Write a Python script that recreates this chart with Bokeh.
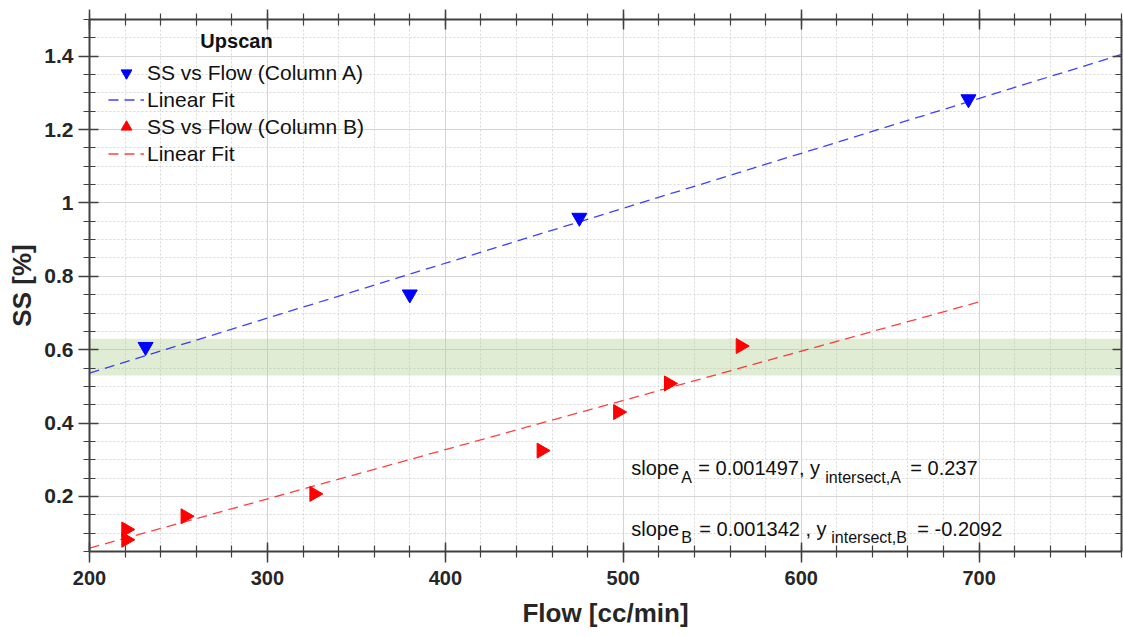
import math
from bokeh.plotting import figure
from bokeh.models import (Range1d, FixedTicker, LinearAxis, BoxAnnotation, Label,
                          Legend, LegendItem, PrintfTickFormatter, CustomJSTickFormatter)
from bokeh.embed import file_html
from bokeh.resources import INLINE

# ---------------- data ----------------
flow_A = [231.5, 380.0, 475.3, 694.0]
ss_A = [0.608, 0.751, 0.960, 1.283]

flow_B = [220.6, 220.6, 253.9, 326.3, 454.0, 497.0, 525.6, 565.9]
ss_B = [0.110, 0.082, 0.146, 0.207, 0.325, 0.430, 0.508, 0.610]

slope_A = 0.001497
intercept_A = 0.237
fit_x_A = [200, 780]

slope_B = 0.001342
intercept_B = -0.2092
fit_x_B = [200, 700]

band = [0.53, 0.63]

x_ticks = [200, 300, 400, 500, 600, 700]
y_ticks = [0.2, 0.4, 0.6, 0.8, 1.0, 1.2, 1.4]
x_minor = [200 + 20 * i for i in range(30)]
y_minor = [round(0.05 * i, 2) for i in range(1, 31)]

fit_y_A = [slope_A * x + intercept_A for x in fit_x_A]
fit_y_B = [slope_B * x + intercept_B for x in fit_x_B]

FONT = "Liberation Sans"
AXC = "#404040"
TXT = "#262626"

p = figure(width=1123, height=637, x_range=Range1d(200, 780), y_range=Range1d(0.05, 1.5),
           output_backend="svg", toolbar_location=None,
           min_border_left=89, min_border_right=2, min_border_top=19, min_border_bottom=86,
           x_axis_label="Flow [cc/min]", y_axis_label="SS [%]")
p.outline_line_color = None
p.background_fill_color = "white"

xt = FixedTicker(ticks=x_ticks, minor_ticks=x_minor)
yt = FixedTicker(ticks=y_ticks, minor_ticks=y_minor)

for ax in (p.xaxis[0], p.yaxis[0]):
    ax.axis_line_color = AXC
    ax.axis_line_width = 2
    ax.major_tick_line_color = AXC
    ax.minor_tick_line_color = AXC
    ax.major_tick_line_width = 1.5
    ax.minor_tick_line_width = 1.2
    ax.major_tick_in = 9
    ax.major_tick_out = 11
    ax.minor_tick_in = 6
    ax.minor_tick_out = 6
    ax.major_label_text_font = FONT
    ax.major_label_text_font_style = "bold"
    ax.major_label_text_color = TXT
    ax.axis_label_text_font = FONT
    ax.axis_label_text_font_style = "bold"
    ax.axis_label_text_color = TXT
    ax.axis_label_text_font_size = "26px"

p.xaxis[0].ticker = xt
p.yaxis[0].ticker = yt
p.xaxis[0].major_label_text_font_size = "20px"
p.yaxis[0].major_label_text_font_size = "21px"
p.xaxis[0].major_label_standoff = 8
p.yaxis[0].major_label_standoff = 5
p.xaxis[0].axis_label_standoff = 10
p.yaxis[0].axis_label_standoff = 4
p.yaxis[0].formatter = PrintfTickFormatter(format="%g")

blank = CustomJSTickFormatter(code="return ''")
top = LinearAxis(ticker=xt, formatter=blank, major_label_text_color=None,
                 major_label_standoff=0,
                 axis_line_color=AXC, axis_line_width=2,
                 major_tick_line_color=AXC, minor_tick_line_color=AXC,
                 major_tick_line_width=1.5, minor_tick_line_width=1.2,
                 major_tick_in=10, major_tick_out=10, minor_tick_in=6, minor_tick_out=6)
right = LinearAxis(ticker=yt, formatter=blank, major_label_text_color=None,
                   major_label_standoff=0,
                   axis_line_color=AXC, axis_line_width=2,
                   major_tick_line_color=AXC, minor_tick_line_color=AXC,
                   major_tick_line_width=1.5, minor_tick_line_width=1.2,
                   major_tick_in=9, major_tick_out=0, minor_tick_in=6, minor_tick_out=0)
p.add_layout(top, "above")
p.add_layout(right, "right")

p.xgrid.ticker = xt
p.ygrid.ticker = yt
for g in (p.xgrid[0], p.ygrid[0]):
    g.grid_line_color = "#d4d4d4"
    g.grid_line_width = 1
    g.minor_grid_line_color = "#d8d8d8"
    g.minor_grid_line_dash = "2 2"
    g.minor_grid_line_width = 1

p.add_layout(BoxAnnotation(bottom=band[0], top=band[1], fill_color="#b5d095",
                           fill_alpha=0.4, line_color=None, level="underlay"))

# fits
lA = p.line(fit_x_A, fit_y_A, line_color="blue", line_alpha=0.75, line_width=1.3, line_dash="10 6")
lB = p.line(fit_x_B, fit_y_B, line_color="red", line_alpha=0.75, line_width=1.3, line_dash="10 6")

# points
sA = p.scatter(flow_A, ss_A, marker="inverted_triangle", size=15,
               fill_color="blue", line_color="blue")
sB = p.scatter(flow_B, ss_B, marker="triangle", size=15, angle=-math.pi / 2,
               fill_color="red", line_color="red")

legend = Legend(items=[
    LegendItem(label="SS vs Flow (Column A)", renderers=[sA]),
    LegendItem(label="Linear Fit", renderers=[lA]),
    LegendItem(label="SS vs Flow (Column B)", renderers=[sB]),
    LegendItem(label="Linear Fit", renderers=[lB]),
], location=(19, 384), padding=0, margin=0, spacing=0,
   glyph_height=27, glyph_width=36, label_height=27, label_standoff=3,
   label_text_font=FONT, label_text_font_size="21px", label_text_color="#111111",
   background_fill_alpha=0, border_line_alpha=0)
p.add_layout(legend, "center")

p.add_layout(Label(x=282.6, y=1.441, text="Upscan", text_align="center", text_baseline="middle",
                   text_font=FONT, text_font_style="bold", text_font_size="20px",
                   text_color="#111111"))

# annotations (pieces with subscripts)
MAIN = "20px"
SUB = "16px"
ann = [
    (504.5, 0.277, [("slope", 0, 0, MAIN), ("A", 50, -9, SUB),
                    ("= 0.001497, y", 67, 0, MAIN), ("intersect,A", 194, -9, SUB),
                    ("= 0.237", 279, 0, MAIN)]),
    (504.5, 0.112, [("slope", 0, 0, MAIN), ("B", 50, -9, SUB),
                    ("= 0.001342 , y", 68, 0, MAIN), ("intersect,B", 200, -9, SUB),
                    ("= -0.2092", 286, 0, MAIN)]),
]
for ax_, ay_, pieces in ann:
    for txt, dx, dy, fs in pieces:
        p.add_layout(Label(x=ax_, y=ay_, x_offset=dx, y_offset=dy, text=txt,
                           text_font=FONT, text_font_size=fs, text_color="#111111",
                           text_baseline="alphabetic", text_align="left"))

open("out.html", "w").write(file_html(p, INLINE))
